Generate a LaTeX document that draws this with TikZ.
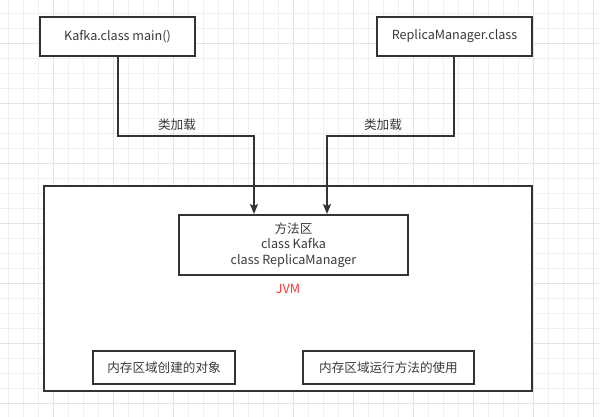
\documentclass[tikz,border=0pt]{standalone}
\usepackage{fontspec}
\setmainfont{Noto Sans CJK SC}
\usetikzlibrary{arrows.meta}
\definecolor{ink}{HTML}{333333}
\definecolor{txt}{HTML}{3A3A3A}
\definecolor{jvmred}{HTML}{FF3333}
\tikzset{
  box/.style={draw=ink, line width=2pt, fill=white, inner sep=0pt, font=\fontsize{12.6}{15.5}\selectfont, text=txt, align=center},
  conn/.style={draw=ink, line width=1.8pt, -{Stealth[length=10pt,width=8pt,inset=2pt]}},
  lbl/.style={font=\fontsize{12.6}{15.5}\selectfont, text=txt, inner sep=0pt},
  minorgrid/.style={draw=black!6, line width=0.9pt},
  majorgrid/.style={draw=black!11, line width=0.9pt}
}
\begin{document}
\begin{tikzpicture}[x=1pt,y=-1pt]
\useasboundingbox (0,0) rectangle (600,417);
\fill[white] (0,0) rectangle (600,417);
% grid
\foreach \k in {0,...,39} {
  \draw[minorgrid] ({8.3+15*\k},0) -- ({8.3+15*\k},417);
}
\foreach \k in {0,...,27} {
  \draw[minorgrid] (0,{13.3+15*\k}) -- (600,{13.3+15*\k});
}
\foreach \k in {0,...,9} {
  \draw[majorgrid] ({53.3+60*\k},0) -- ({53.3+60*\k},417);
}
\foreach \k in {0,...,6} {
  \draw[majorgrid] (0,{43.3+60*\k}) -- (600,{43.3+60*\k});
}
% top boxes
\node[box, minimum width=155pt, minimum height=39pt] (kafka) at (117.5,36.5) {Kafka.class main()};
\node[box, minimum width=155pt, minimum height=39pt] (replica) at (454.5,36.5) {ReplicaManager.class};
% JVM box
\node[box, minimum width=488pt, minimum height=205pt] (jvm) at (288,288.5) {};
\node[box, minimum width=229pt, minimum height=60pt] (method) at (293.5,245) {方法区\\class Kafka\\class ReplicaManager};
\node[lbl, text=jvmred] (jvmlbl) at (288,289) {JVM};
\node[box, minimum width=142pt, minimum height=33pt] (obj) at (164,367.5) {内存区域创建的对象};
\node[box, minimum width=171pt, minimum height=33pt] (run) at (388.5,367.5) {内存区域运行方法的使用};
% connectors
\coordinate (kb) at (118,136);
\coordinate (rb) at (454,136);
\draw[conn] (kafka.south -| kb) -- (kb) -- (254,136) -- (method.north -| 254,0);
\draw[conn] (replica.south -| rb) -- (rb) -- (327,136) -- (method.north -| 327,0);
\node[lbl] (l1) at (177,125) {类加载};
\node[lbl] (l2) at (383,125) {类加载};
\end{tikzpicture}
\end{document}
